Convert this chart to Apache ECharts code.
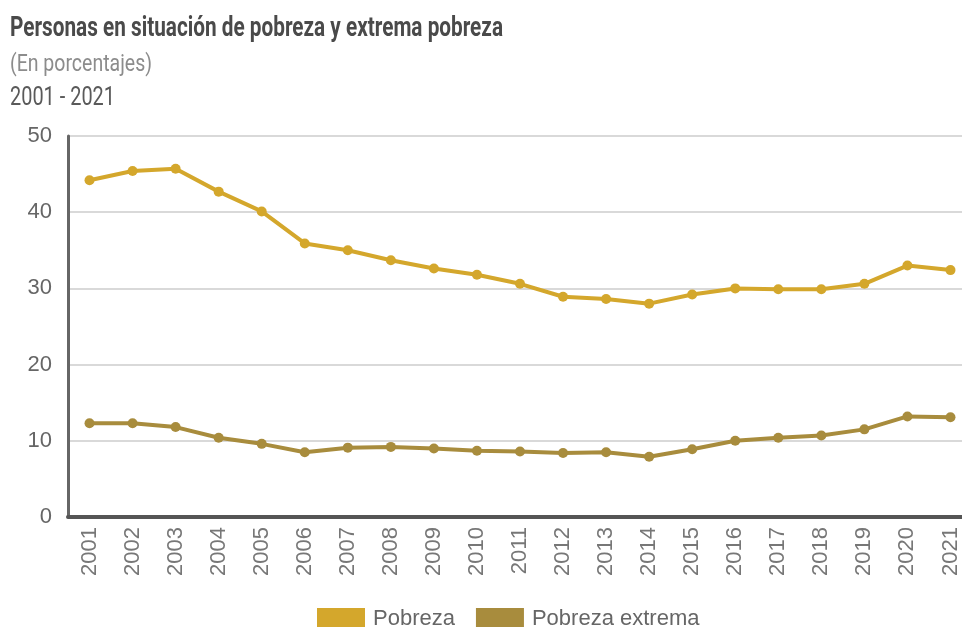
<!DOCTYPE html>
<html><head><meta charset="utf-8">
<script src="https://cdn.jsdelivr.net/npm/echarts@6/dist/echarts.min.js"></script>
<style>html,body{margin:0;padding:0;background:#fff;overflow:hidden;width:962px;height:627px}#c{width:990px;height:627px}</style>
</head><body><div id="c"></div>
<script>
var years = ['2001','2002','2003','2004','2005','2006','2007','2008','2009','2010','2011','2012','2013','2014','2015','2016','2017','2018','2019','2020','2021'];
var pobreza = [44.2,45.4,45.7,42.7,40.1,35.9,35.0,33.7,32.6,31.8,30.6,28.9,28.6,28.0,29.2,30.0,29.9,29.9,30.6,33.0,32.4];
var pobrezaExtrema = [12.3,12.3,11.8,10.4,9.6,8.5,9.1,9.2,9.0,8.7,8.6,8.4,8.5,7.9,8.9,10.0,10.4,10.7,11.5,13.2,13.1];
var yTicks = [0,10,20,30,40,50];
var titleText = 'Personas en situación de pobreza y extrema pobreza';
var subtitleText = '(En porcentajes)';
var periodText = '2001 - 2021';

function fitScale(text, font, target) {
  var cv = document.createElement('canvas').getContext('2d');
  cv.font = font;
  return target / cv.measureText(text).width;
}
var fTitle = 'bold 28px Roboto', fSub = '24px Roboto', fYear = '25px Roboto';

var chart = echarts.init(document.getElementById('c'));
var sans = '"Liberation Sans", Arial, sans-serif';
chart.setOption({
  backgroundColor: '#fff',
  animation: false,
  graphic: [
    {type: 'text', x: 10, y: 29, scaleX: fitScale(titleText, fTitle, 493),
     style: {text: titleText, font: fTitle, fill: '#4a4a4a', verticalAlign: 'middle'}},
    {type: 'text', x: 10, y: 65, scaleX: fitScale(subtitleText, fSub, 142),
     style: {text: subtitleText, font: fSub, fill: '#8c8c8c', verticalAlign: 'middle'}},
    {type: 'text', x: 10, y: 99, scaleX: fitScale(periodText, fYear, 105),
     style: {text: periodText, font: fYear, fill: '#5a5a5a', verticalAlign: 'middle'}}
  ],
  legend: {
    top: 603, left: 312, itemWidth: 48, itemHeight: 22, itemGap: 21,
    icon: 'rect',
    textStyle: {fontFamily: sans, fontSize: 22, color: '#666', padding: [0, 0, 0, 3]},
    data: ['Pobreza', 'Pobreza extrema']
  },
  grid: {left: 68, top: 136, width: 904, height: 381},
  xAxis: {
    type: 'category', data: years, boundaryGap: true,
    axisLine: {lineStyle: {color: '#555', width: 4}},
    axisTick: {show: false},
    axisLabel: {rotate: 90, color: '#777', fontSize: 22, fontFamily: sans, margin: 10}
  },
  yAxis: {
    type: 'value', min: yTicks[0], max: yTicks[yTicks.length-1], interval: 10,
    axisLine: {show: true, lineStyle: {color: '#666', width: 3}},
    axisTick: {show: false},
    axisLabel: {color: '#666', fontSize: 22, fontFamily: sans, margin: 16},
    splitLine: {lineStyle: {color: '#ccc', width: 1.5}}
  },
  series: [
    {name: 'Pobreza', type: 'line', data: pobreza, color: '#D4A72C',
     symbol: 'circle', symbolSize: 10, lineStyle: {width: 4}},
    {name: 'Pobreza extrema', type: 'line', data: pobrezaExtrema, color: '#A88C3D',
     symbol: 'circle', symbolSize: 10, lineStyle: {width: 4}}
  ]
});
</script></body></html>
